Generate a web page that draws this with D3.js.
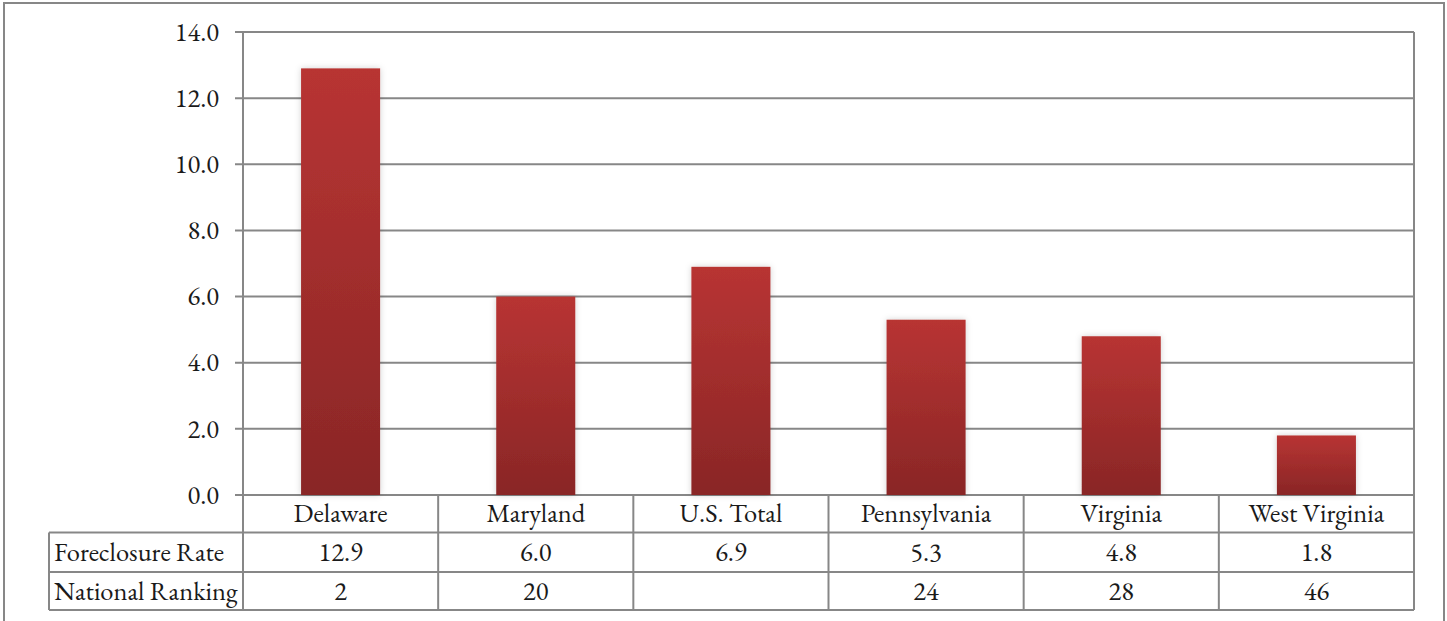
<!DOCTYPE html>
<html>
<head>
<meta charset="utf-8">
<script src="https://cdn.jsdelivr.net/npm/d3@7"></script>
<style>
  body { margin: 0; background: #fff; }
  svg text { font-family: "EB Garamond", Garamond, "Liberation Serif", serif; fill: #1a1a1a; font-size: 26.5px; }
</style>
</head>
<body>
<svg id="chart"></svg>
<script>
// chart values
const states = ["Delaware", "Maryland", "U.S. Total", "Pennsylvania", "Virginia", "West Virginia"];
const foreclosureRate = [12.9, 6.0, 6.9, 5.3, 4.8, 1.8];
const nationalRanking = ["2", "20", "", "24", "28", "46"];
const rowLabels = ["Foreclosure Rate", "National Ranking"];
const yTicks = [0, 2, 4, 6, 8, 10, 12, 14];

const width = 1447, height = 621;
const margin = { top: 32, right: 33, bottom: 126, left: 243 };
const plotW = width - margin.left - margin.right;
const plotH = height - margin.top - margin.bottom;
const rowEdges = [0, 37.5, 77, 115];
const labelColX = 49;
const gridColor = "#878787";

const svg = d3.select("#chart").attr("width", width).attr("height", height);

// gradient for bars
const defs = svg.append("defs");
const grad = defs.append("linearGradient").attr("id", "barGrad")
    .attr("x1", 0).attr("y1", 0).attr("x2", 0).attr("y2", 1);
grad.append("stop").attr("offset", "0%").attr("stop-color", "#b83433");
grad.append("stop").attr("offset", "100%").attr("stop-color", "#892626");
const shadow = defs.append("filter").attr("id", "shadow")
    .attr("x", "-20%").attr("y", "-10%").attr("width", "140%").attr("height", "120%");
shadow.append("feDropShadow").attr("dx", 0).attr("dy", 0).attr("stdDeviation", 3)
    .attr("flood-color", "#000").attr("flood-opacity", 0.18);

// outer frame
svg.append("rect")
    .attr("x", 4).attr("y", 3).attr("width", 1440).attr("height", height + 10)
    .attr("fill", "none").attr("stroke", gridColor).attr("stroke-width", 2);

const xScale = d3.scaleBand().domain(states).range([0, plotW]).padding(0);
const yScale = d3.scaleLinear().domain([0, 14]).range([plotH, 0]);

const g = svg.append("g").attr("transform", `translate(${margin.left},${margin.top})`);

// gridlines + ticks
g.append("g")
    .selectAll("line")
    .data(yTicks)
    .join("line")
    .attr("x1", -8).attr("x2", plotW)
    .attr("y1", d => yScale(d)).attr("y2", d => yScale(d))
    .attr("stroke", gridColor).attr("stroke-width", 2);

// left axis and right border
g.append("line").attr("x1", 0).attr("x2", 0).attr("y1", 0).attr("y2", plotH)
    .attr("stroke", gridColor).attr("stroke-width", 2);
g.append("line").attr("x1", plotW).attr("x2", plotW).attr("y1", 0).attr("y2", plotH)
    .attr("stroke", gridColor).attr("stroke-width", 2);

// tick labels
g.append("g")
    .selectAll("text")
    .data(yTicks)
    .join("text")
    .attr("x", -24)
    .attr("y", d => yScale(d))
    .attr("dy", "0.33em")
    .attr("text-anchor", "end")
    .text(d => d.toFixed(1));

// bars
const barW = xScale.bandwidth() * 0.405;
g.append("g")
    .selectAll("rect")
    .data(states)
    .join("rect")
    .attr("x", d => xScale(d) + (xScale.bandwidth() - barW) / 2)
    .attr("y", (d, i) => yScale(foreclosureRate[i]))
    .attr("width", barW)
    .attr("height", (d, i) => plotH - yScale(foreclosureRate[i]))
    .attr("fill", "url(#barGrad)")
    .attr("filter", "url(#shadow)");

// data table
const table = g.append("g").attr("transform", `translate(0,${plotH})`);
const tableLeft = labelColX - margin.left;

// horizontal lines
table.selectAll("line.h")
    .data(rowEdges.slice(1))
    .join("line")
    .attr("class", "h")
    .attr("x1", tableLeft).attr("x2", plotW)
    .attr("y1", d => d).attr("y2", d => d)
    .attr("stroke", gridColor).attr("stroke-width", 2);

// vertical lines
const colEdges = states.map(s => xScale(s)).concat([plotW]);
table.selectAll("line.v")
    .data(colEdges)
    .join("line")
    .attr("class", "v")
    .attr("x1", d => d).attr("x2", d => d)
    .attr("y1", 0).attr("y2", rowEdges[3])
    .attr("stroke", gridColor).attr("stroke-width", 2);
table.append("line")
    .attr("x1", tableLeft).attr("x2", tableLeft)
    .attr("y1", rowEdges[1]).attr("y2", rowEdges[3])
    .attr("stroke", gridColor).attr("stroke-width", 2);

const rowMid = r => (rowEdges[r] + rowEdges[r + 1]) / 2;

// row labels
table.selectAll("text.rowlab")
    .data(rowLabels)
    .join("text")
    .attr("class", "rowlab")
    .attr("x", tableLeft + 5)
    .attr("y", (d, i) => rowMid(i + 1))
    .attr("dy", "0.33em")
    .text(d => d);

const rows = [states, foreclosureRate.map(v => v.toFixed(1)), nationalRanking];
rows.forEach((row, r) => {
    table.append("g")
        .selectAll("text")
        .data(row)
        .join("text")
        .attr("x", (d, i) => xScale(states[i]) + xScale.bandwidth() / 2)
        .attr("y", rowMid(r))
        .attr("dy", "0.33em")
        .attr("text-anchor", "middle")
        .text(d => d);
});
</script>
</body>
</html>
